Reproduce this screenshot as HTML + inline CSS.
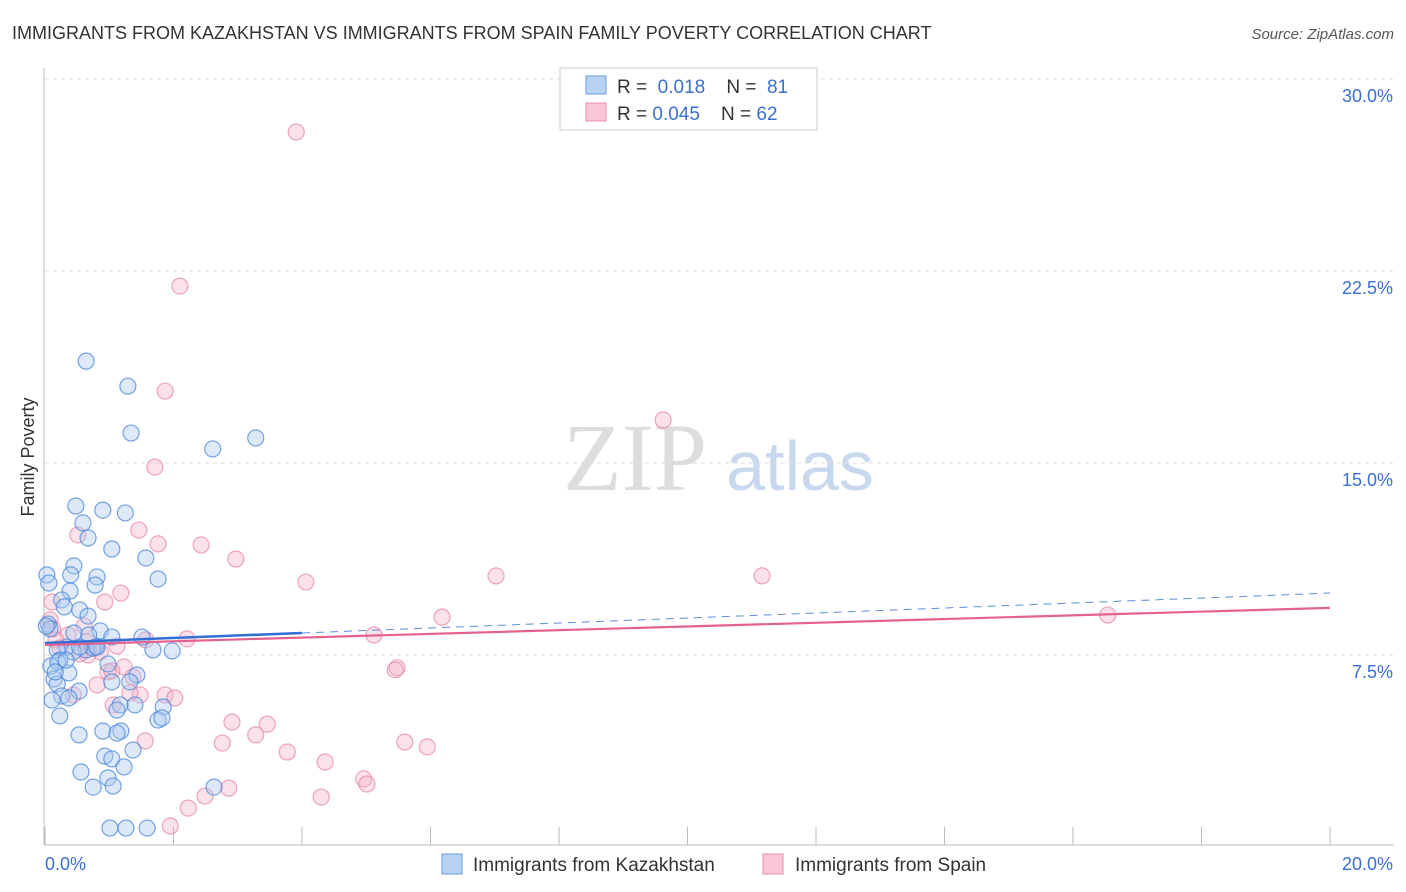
<!DOCTYPE html>
<html><head><meta charset="utf-8"><style>
body{margin:0;background:#fff;font-family:"Liberation Sans",sans-serif;}
svg{display:block}
</style></head><body>
<svg id="chart" width="1406" height="892">
<text x="12" y="39" font-size="18" fill="#333">IMMIGRANTS FROM KAZAKHSTAN VS IMMIGRANTS FROM SPAIN FAMILY POVERTY CORRELATION CHART</text>
<text x="1394" y="39" font-size="15" fill="#555" font-style="italic" text-anchor="end">Source: ZipAtlas.com</text>
<text x="34" y="457" font-size="18" fill="#333" text-anchor="middle" transform="rotate(-90 34 457)">Family Poverty</text>
<g><text x="635" y="490" font-size="96" fill="#ddd" font-family="Liberation Serif,serif" text-anchor="middle">ZIP</text><text x="800" y="490" font-size="70" fill="#c8d8ef" text-anchor="middle">atlas</text></g>
<g id="grid"></g><g id="axes"></g><g id="pts"></g><g id="trend"></g>
<g>
<rect x="560" y="68" width="257" height="62" fill="#fff" stroke="#ccc"/>
<rect x="586" y="76" width="20" height="18" fill="#b9d3f5" stroke="#6a9be0"/>
<rect x="586" y="103" width="20" height="18" fill="#f8c6d5" stroke="#e890ab"/>
<text x="617" y="93" font-size="19" fill="#333">R = <tspan fill="#3a6fd4">&#160;0.018</tspan>&#160;&#160;&#160;&#160;N = <tspan fill="#3a6fd4">&#160;81</tspan></text>
<text x="617" y="120" font-size="19" fill="#333">R = <tspan fill="#3a6fd4">0.045</tspan>&#160;&#160;&#160;&#160;N = <tspan fill="#3a6fd4">62</tspan></text>
</g>
<g>
<rect x="442" y="854" width="20" height="20" fill="#b9d3f5" stroke="#6a9be0"/>
<text x="473" y="871" font-size="19" fill="#333">Immigrants from Kazakhstan</text>
<rect x="763" y="854" width="20" height="20" fill="#f8c6d5" stroke="#e890ab"/>
<text x="795" y="871" font-size="19" fill="#333">Immigrants from Spain</text>
</g>
</svg>
<script>
const yTicks=[7.5,15,22.5,30];
const yTickLabels=["7.5%","15.0%","22.5%","30.0%"];
const xTickLabels=["0.0%","20.0%"];
const blueX=[0.64,1.29,1.34,2.61,3.28,0.48,0.90,1.25,0.59,0.67,1.04,1.57,0.45,0.40,0.81,1.76,0.78,0.03,0.06,0.39,0.26,0.30,0.54,0.67,0.05,0.08,0.86,0.68,0.45,1.04,1.51,0.34,0.19,0.79,0.64,1.68,1.98,0.23,0.09,0.20,0.98,0.37,1.43,0.14,0.19,1.32,0.53,0.26,1.17,1.12,1.40,1.84,0.23,1.76,1.82,0.90,1.18,1.12,0.53,1.37,0.93,1.04,1.23,0.56,0.98,0.75,1.06,2.63,1.01,1.26,1.59,0.16,0.44,0.33,0.75,0.54,0.81,0.11,0.37,0.02,1.04];
const blueY=[18.98,18.0,16.17,15.55,15.98,13.32,13.16,13.05,12.66,12.07,11.64,11.29,10.98,10.63,10.55,10.47,10.23,10.63,10.31,10.0,9.65,9.38,9.26,9.02,8.71,8.52,8.44,8.28,8.36,8.20,8.20,7.81,7.70,7.81,7.70,7.70,7.66,7.30,7.07,7.23,7.15,6.80,6.72,6.56,6.37,6.45,6.09,5.90,5.55,5.35,5.55,5.47,5.12,4.96,5.04,4.53,4.53,4.45,4.38,3.79,3.55,3.44,3.13,2.93,2.70,2.34,2.38,2.34,0.74,0.74,0.74,6.84,7.62,7.30,7.77,7.81,7.81,5.74,5.82,8.63,6.45];
const pinkX=[3.91,2.10,1.87,9.62,1.71,0.51,1.46,1.76,2.43,2.97,4.06,7.02,11.16,1.18,0.93,0.11,0.08,6.18,16.54,5.12,0.36,1.57,2.21,0.73,1.12,0.86,0.67,1.23,0.98,5.48,5.45,1.37,0.81,1.48,1.87,2.02,1.06,0.44,2.91,3.46,3.28,1.56,2.76,5.60,5.95,3.77,4.36,4.96,5.01,2.86,2.49,2.23,4.30,1.95,0.12,0.17,0.54,0.65,0.61,1.32,1.04,0.23];
const pinkY=[27.93,21.91,17.81,16.68,14.84,12.19,12.38,11.84,11.80,11.25,10.35,10.59,10.59,9.92,9.57,9.57,8.87,8.98,9.06,8.28,8.28,8.09,8.13,7.77,7.85,7.62,7.50,7.03,6.84,7.00,6.92,6.64,6.33,5.94,5.94,5.82,5.55,5.94,4.88,4.80,4.38,4.14,4.06,4.10,3.91,3.71,3.32,2.66,2.46,2.30,1.99,1.52,1.95,0.82,8.52,8.09,7.54,8.01,8.63,6.02,6.88,7.77];
const blueTrend=[7.97,9.92], pinkTrend=[7.89,9.34];
const NS="http://www.w3.org/2000/svg";
const X=v=>45+v*64.25, Y=v=>847-v*25.6;
function mk(t,a,p){const e=document.createElementNS(NS,t);for(const k in a)e.setAttribute(k,a[k]);p.appendChild(e);return e;}
const grid=document.getElementById('grid'),axes=document.getElementById('axes'),pts=document.getElementById('pts'),tr=document.getElementById('trend');
yTicks.forEach((t,i)=>{
 const l=mk('line',{x1:45,x2:1394,y1:Y(t),y2:Y(t),stroke:'#ddd','stroke-dasharray':'4,4'},grid);
 
 
 const tx=mk('text',{x:1393,y:Y(t)+23,'font-size':18,fill:'#3a6fd4','text-anchor':'end'},axes);tx.textContent=yTickLabels[i];
 
 
});
const ax=mk('line',{x1:44,x2:44,y1:68,y2:845,stroke:'#bbb'},axes);


const bx=mk('line',{x1:44,x2:1394,y1:845,y2:845,stroke:'#bbb'},axes);


for(let i=0;i<=10;i++){const t=mk('line',{x1:X(i*2),x2:X(i*2),y1:827,y2:845,stroke:'#bbb'},axes);
 
 }
[[0,'start',45],[20,'end',1393]].forEach((d,i)=>{const t=mk('text',{x:d[2],y:870,'font-size':18,fill:'#3a6fd4','text-anchor':d[1]},axes);t.textContent=xTickLabels[i];
 
 });
function dots(xs,ys,fill,stroke,name){xs.forEach((x,i)=>{const c=mk('circle',{cx:X(x),cy:Y(ys[i]),r:8,fill:fill,'fill-opacity':0.4,stroke:stroke,'stroke-opacity':0.75,'stroke-width':1.2},pts);
 
 });}
dots(pinkX,pinkY,'#f4b3c8','#e58aa7','spain-point');
dots(blueX,blueY,'#a9c8f0','#4a86d8','kazakhstan-point');
const v=(a,x)=>a[0]+(a[1]-a[0])*x/20;
let l1=mk('line',{x1:X(0),y1:Y(v(blueTrend,0)),x2:X(4),y2:Y(v(blueTrend,4)),stroke:'#2f6fd6','stroke-width':2.5},tr);


let l2=mk('line',{x1:X(4),y1:Y(v(blueTrend,4)),x2:X(20),y2:Y(v(blueTrend,20)),stroke:'#5a8edc','stroke-width':1,'stroke-dasharray':'8,6'},tr);


let l3=mk('line',{x1:X(0),y1:Y(v(pinkTrend,0)),x2:X(20),y2:Y(v(pinkTrend,20)),stroke:'#e4628f','stroke-width':2.2},tr);


</script>
</body></html>
